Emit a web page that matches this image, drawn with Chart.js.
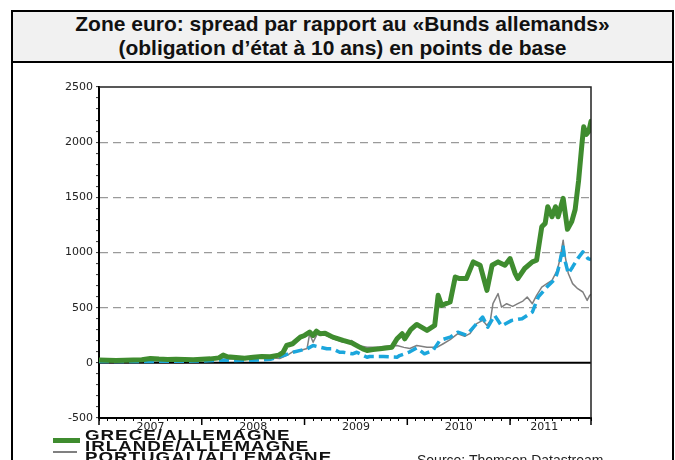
<!DOCTYPE html>
<html><head><meta charset="utf-8">
<script src="https://cdn.jsdelivr.net/npm/chart.js@4.4.1/dist/chart.umd.min.js"></script>
<style>
html,body{margin:0;padding:0;background:#fff;overflow:hidden;}
#wrap{position:relative;width:675px;height:460px;}
canvas{position:absolute;left:0;top:0;}
#frame{position:absolute;left:11px;top:10px;width:659px;height:470px;border:2px solid #000;pointer-events:none;}
#title{position:absolute;left:13px;top:12px;width:659px;height:49px;background:#f1f1f1;border-bottom:2px solid #000;
 font-family:"Liberation Sans",Arial,sans-serif;font-weight:bold;font-size:21px;line-height:24px;text-align:center;color:#111;}
.leg{position:absolute;left:85px;font-family:"Liberation Sans",Arial,sans-serif;font-weight:bold;font-size:15px;letter-spacing:0.8px;color:#111;line-height:15px;white-space:nowrap;transform:scaleX(1.25);transform-origin:0 0;}
.sw{position:absolute;}
#src{position:absolute;left:417px;top:452px;font-family:"Liberation Sans",Arial,sans-serif;font-size:14px;color:#222;white-space:nowrap;line-height:16px;}
</style></head>
<body><div id="wrap">
<canvas id="c" width="675" height="460"></canvas>
<div id="frame"></div>
<div id="title"><div>Zone euro: spread par rapport au «Bunds allemands»<br>(obligation d’état à 10 ans) en points de base</div></div>
<div class="sw" style="left:53px;top:438px;width:27px;height:5px;background:#3f8c2f;"></div>
<div class="leg" id="l1" style="top:427px;"></div>
<div class="sw" style="left:53px;top:451px;width:24px;height:2px;background:#808080;"></div>
<div class="leg" id="l2" style="top:438px;"></div>
<div class="sw" style="left:53px;top:462px;width:24px;height:4px;background:#1ba6dc;"></div>
<div class="leg" id="l3" style="top:449px;"></div>
<div id="src">Source: Thomson Datastream</div>
</div>
<script>
// x values: months since January 2007
const seriesNames = ['GRECE/ALLEMAGNE', 'IRLANDE/ALLEMAGNE', 'PORTUGAL/ALLEMAGNE'];
const yearLabels = ['2007', '2008', '2009', '2010', '2011'];

const greeceMonths = [
  0,1,2,3,4,5,6,7,8,9,10,11,12,13,14,14.5,15,16,17,18,19,20,21,
  21.5,21.9,22.6,23.5,24,24.6,25,25.4,25.8,26.4,27.3,28.5,29.6,30.8,31.3,32,32.8,34.2,34.8,35.4,35.7,36.4,37.1,38.3,39.2,
  39.6,40,41,41.6,42.1,42.9,43.7,44.5,45.3,45.9,46.6,47.4,48,48.6,48.9,49.7,50.6,51.1,
  51.7,52.1,52.4,52.9,53.3,53.6,54.2,54.7,55.2,55.6,56,56.4,56.6,56.9,57.2,57.45];
const greeceValues = [
  25,24,22,24,26,28,40,34,30,32,30,28,32,36,45,70,55,48,42,50,58,55,70,
  96,157,173,233,248,278,248,287,264,269,233,203,178,127,112,120,127,142,218,264,218,300,348,294,339,
  612,521,551,778,764,764,915,885,657,885,915,885,945,809,764,855,915,930,
  1233,1264,1415,1324,1415,1324,1491,1210,1280,1390,1650,1990,2140,2070,2100,2190];

const irelandMonths = [
  0,2,4,6,8,10,12,14,16,18,20,21.1,22,22.6,23.5,24.3,24.6,25,25.6,26.1,27.3,28.5,29.5,30.1,31.3,32.4,
  33.5,34.8,35.6,36.3,37.1,38.3,39.5,40.2,41,41.9,42.7,43.3,44.1,44.8,45.3,45.7,46,46.6,47,47.6,48.3,48.9,
  49.5,50,50.6,51.1,51.7,52.3,52.9,53.5,53.8,54.2,54.4,54.8,55.3,55.9,56.5,57,57.3,57.45];
const irelandValues = [
  12,11,13,15,16,18,20,32,36,40,45,39,70,100,112,130,264,187,278,264,220,187,203,160,142,142,
  150,157,140,130,157,142,142,173,210,264,240,264,355,385,339,385,536,627,505,536,512,536,
  560,597,536,612,687,718,748,839,930,1112,980,809,718,672,642,566,612,620];

const portugalMonths = [
  0,2,4,6,8,10,12,14,16,18,20,21.5,22.6,24.3,25,25.8,26.6,27.3,28.1,28.5,29.6,30.1,31.3,31.6,33.2,34.8,
  35.1,36.3,37.1,38,39,39.8,41,41.9,42.9,44.1,44.8,45.4,46.2,47,48.2,49.4,50.6,51.3,
  52.3,53.3,53.6,54.1,54.2,54.4,54.8,55.3,55.9,56.5,57.1,57.45];
const portugalValues = [
  12,11,12,13,14,15,16,24,22,24,32,66,96,127,157,142,127,127,96,96,82,96,51,57,57,51,
  66,100,135,82,112,203,233,278,250,355,415,324,430,335,385,400,460,597,
  687,764,839,1021,1050,930,809,869,945,1006,945,936];

const yTicksMajor = [-500, 0, 500, 1000, 1500, 2000, 2500];

function pairs(xs, ys){ const n=Math.min(xs.length, ys.length); const out=[]; for(let i=0;i<n;i++) out.push({x:xs[i], y:ys[i]}); return out; }

document.getElementById('l1').textContent = seriesNames[0];
document.getElementById('l2').textContent = seriesNames[1];
document.getElementById('l3').textContent = seriesNames[2];

const yearStart = {2007:0, 2008:12, 2009:24, 2010:36, 2011:48};
const labelAt = {6:yearLabels[0], 18:yearLabels[1], 30:yearLabels[2], 42:yearLabels[3], 52:yearLabels[4]};

const framePlugin = {
  id:'framePlugin',
  beforeDatasetsDraw(chart){
    const {ctx, chartArea:a, scales:{y}} = chart;
    ctx.save();
    const y0 = y.getPixelForValue(0);
    ctx.strokeStyle='#000'; ctx.lineWidth=2;
    ctx.beginPath(); ctx.moveTo(a.left, y0); ctx.lineTo(a.right, y0); ctx.stroke();
    ctx.restore();
  },
  afterDraw(chart){
    const {ctx, chartArea:a, scales:{x}} = chart;
    ctx.save();
    ctx.lineWidth=1.5; ctx.strokeStyle='#222';
    ctx.beginPath(); ctx.moveTo(a.left, a.top); ctx.lineTo(a.right, a.top); ctx.lineTo(a.right, a.bottom); ctx.stroke();
    ctx.lineWidth=1.5; ctx.strokeStyle='#000';
    Object.values(yearStart).forEach(m=>{
      const px = x.getPixelForValue(m);
      ctx.beginPath(); ctx.moveTo(px, a.bottom); ctx.lineTo(px, a.bottom+7); ctx.stroke();
    });
    const pr = x.getPixelForValue(x.max);
    ctx.beginPath(); ctx.moveTo(pr, a.bottom); ctx.lineTo(pr, a.bottom+7); ctx.stroke();
    ctx.restore();
  }
};

new Chart(document.getElementById('c'), {
  type:'line',
  data:{ datasets:[
    {label:seriesNames[0], data:pairs(greeceMonths, greeceValues), borderColor:'#3f8c2f', borderWidth:5, pointRadius:0, borderJoinStyle:'round', borderCapStyle:'round', order:1},
    {label:seriesNames[1], data:pairs(irelandMonths, irelandValues), borderColor:'#7f7f7f', borderWidth:1.5, pointRadius:0, borderJoinStyle:'round', order:3},
    {label:seriesNames[2], data:pairs(portugalMonths, portugalValues), borderColor:'#1ba6dc', borderWidth:3.5, borderDash:[10,5], pointRadius:0, borderJoinStyle:'round', order:2}
  ]},
  options:{
    responsive:false, animation:false, devicePixelRatio:1,
    layout:{padding:{left:0, right:84, top:87, bottom:0}},
    plugins:{legend:{display:false}, tooltip:{enabled:false}, title:{display:false}},
    scales:{
      x:{type:'linear', min:0, max:57.45,
        afterFit(s){ s.height = 42; },
        border:{display:true, color:'#000', width:2},
        grid:{drawOnChartArea:false, drawTicks:true, tickLength:3, tickColor:'#000', tickWidth:1},
        ticks:{stepSize:1, autoSkip:false, maxRotation:0, padding:0, color:'#222',
          font:{family:'"DejaVu Sans", sans-serif', size:11},
          callback:(v)=> labelAt[v] !== undefined ? labelAt[v] : ''}
      },
      y:{type:'linear', min:-500, max:2500,
        afterFit(s){ s.width = 99; },
        border:{display:true, color:'#000', width:2, dash:[8,5]},
        grid:{drawTicks:true, tickLength:3, tickColor:'#333', tickWidth:1, tickBorderDash:[],
          color:(c)=> (c.tick && [500,1000,1500,2000].includes(c.tick.value)) ? '#9a9a9a' : 'rgba(0,0,0,0)', lineWidth:1.2},
        ticks:{stepSize:100, autoSkip:false, padding:3, color:'#222',
          font:{family:'"DejaVu Sans", sans-serif', size:11},
          callback:(v)=> yTicksMajor.includes(v) ? String(v) : ''}
      }
    }
  },
  plugins:[framePlugin]
});
</script>
</body></html>
